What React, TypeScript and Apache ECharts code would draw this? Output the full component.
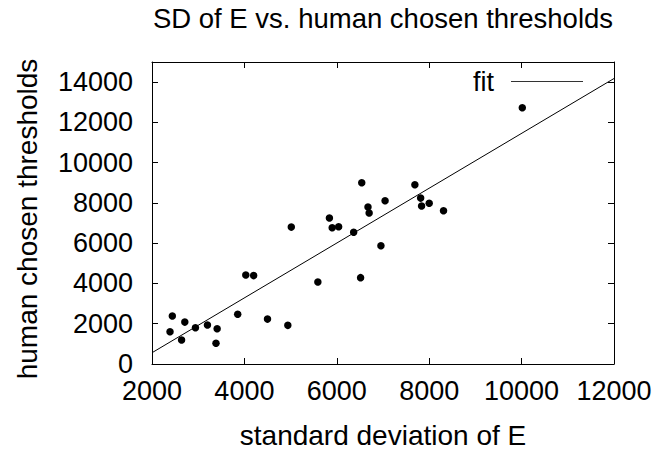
import React, { useEffect, useRef } from "react";
import * as echarts from "echarts";

const sdOfE = [
  2390, 2440, 2640, 2710, 2940, 3200, 3410, 3385, 3855, 4030, 4200, 4500, 4940,
  5015, 5590, 5840, 5900, 6040, 6365, 6515, 6540, 6675, 6700, 7045, 6955, 7690,
  7815, 7835, 8000, 8310, 10015,
];
const thresholds = [
  1600, 2380, 1190, 2080, 1800, 1940, 1750, 1030, 2470, 4420, 4390, 2230, 1920,
  6800, 4070, 7250, 6770, 6820, 6540, 4290, 9000, 7800, 7500, 8110, 5875, 8900,
  8240, 7850, 7980, 7610, 12730,
];
const fitX = [2000, 12000];
const fitY = [560, 14180];

const xTicks = { min: 2000, max: 12000, interval: 2000 };
const yTicks = { min: 0, max: 15000, interval: 2000 };

const FONT = "'Liberation Sans', Arial, Helvetica, sans-serif";

export default function App() {
  const ref = useRef<HTMLDivElement>(null);
  useEffect(() => {
    if (!ref.current) return;
    const chart = echarts.init(ref.current, undefined, { renderer: "svg" });
    const points = sdOfE.map((x, i) => [x, thresholds[i]]);
    const fit = fitX.map((x, i) => [x, fitY[i]]);
    const tick = { show: true, inside: true, length: 6, lineStyle: { color: "#000", width: 1 } };
    const line = { show: true, onZero: false, lineStyle: { color: "#000", width: 1 } };
    const fmt = (v: number) => String(v);
    chart.setOption({
      animation: false,
      backgroundColor: "#fff",
      textStyle: { fontFamily: FONT },
      grid: { left: 152, right: 42, top: 62, bottom: 85, containLabel: false },
      xAxis: [
        {
          type: "value",
          min: xTicks.min,
          max: xTicks.max,
          interval: xTicks.interval,
          axisLine: line,
          axisTick: tick,
          splitLine: { show: false },
          axisLabel: { fontSize: 27, color: "#000", margin: 13, fontFamily: FONT, formatter: fmt },
        },
        {
          type: "value",
          position: "top",
          min: xTicks.min,
          max: xTicks.max,
          interval: xTicks.interval,
          axisLine: line,
          axisTick: tick,
          splitLine: { show: false },
          axisLabel: { show: false },
        },
      ],
      yAxis: [
        {
          type: "value",
          min: yTicks.min,
          max: yTicks.max,
          interval: yTicks.interval,
          axisLine: line,
          axisTick: tick,
          splitLine: { show: false },
          axisLabel: {
            fontSize: 27,
            color: "#000",
            margin: 19,
            fontFamily: FONT,
            showMaxLabel: false,
            formatter: fmt,
          },
        },
        {
          type: "value",
          position: "right",
          min: yTicks.min,
          max: yTicks.max,
          interval: yTicks.interval,
          axisLine: line,
          axisTick: tick,
          splitLine: { show: false },
          axisLabel: { show: false },
        },
      ],
      graphic: [
        {
          type: "text",
          x: 383,
          y: 18,
          style: {
            text: "SD of E vs. human chosen thresholds",
            font: `27.5px ${FONT}`,
            fill: "#000",
            textAlign: "center",
            textVerticalAlign: "middle",
          },
        },
        {
          type: "text",
          x: 383,
          y: 435,
          style: {
            text: "standard deviation of E",
            font: `28px ${FONT}`,
            fill: "#000",
            textAlign: "center",
            textVerticalAlign: "middle",
          },
        },
        {
          type: "text",
          x: 27,
          y: 219,
          rotation: Math.PI / 2,
          style: {
            text: "human chosen thresholds",
            font: `28px ${FONT}`,
            fill: "#000",
            textAlign: "center",
            textVerticalAlign: "middle",
          },
        },
        {
          type: "text",
          x: 494,
          y: 82,
          style: {
            text: "fit",
            font: `27px ${FONT}`,
            fill: "#000",
            textAlign: "right",
            textVerticalAlign: "middle",
          },
        },
        {
          type: "line",
          shape: { x1: 511, y1: 81.5, x2: 583, y2: 81.5 },
          style: { stroke: "#333", lineWidth: 1 },
        },
      ],
      series: [
        {
          name: "data",
          type: "scatter",
          data: points,
          symbol: "circle",
          symbolSize: 7.5,
          itemStyle: { color: "#000", opacity: 1 },
          silent: true,
        },
        {
          name: "fit",
          type: "line",
          data: fit,
          symbol: "none",
          lineStyle: { color: "#000", width: 1 },
          itemStyle: { color: "#000" },
          silent: true,
        },
      ],
    });
    return () => chart.dispose();
  }, []);
  return (
    <div
      ref={ref}
      style={{ position: "absolute", left: 0, top: 0, width: 656, height: 449 }}
    />
  );
}
